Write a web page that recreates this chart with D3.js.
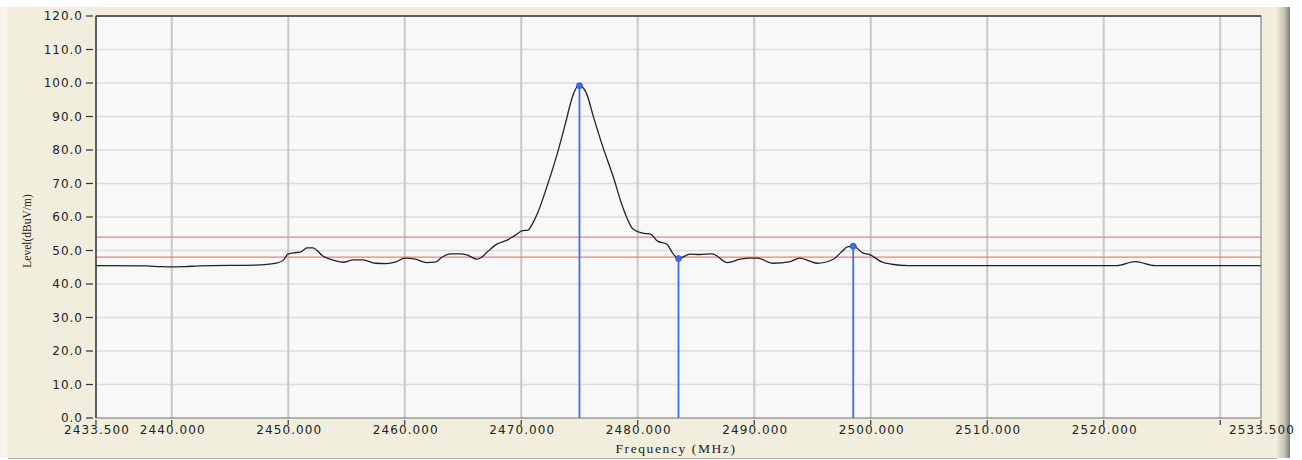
<!DOCTYPE html>
<html>
<head>
<meta charset="utf-8">
<script src="https://cdn.jsdelivr.net/npm/d3@7"></script>
<style>
  html, body { margin: 0; padding: 0; background: #ffffff; }
  svg { display: block; }
</style>
</head>
<body>
<svg id="chart" width="1302" height="460"></svg>
<script>
// ---- data ----
const freqMHz = [2433.5, 2437.8, 2439.0, 2440.0, 2441.1, 2442.4, 2447.7, 2449.0, 2449.6, 2450.0,
  2450.7, 2451.1, 2451.6, 2452.1, 2453.0, 2453.6, 2454.7, 2455.6, 2456.4, 2457.5,
  2458.4, 2459.3, 2460.0, 2460.9, 2461.9, 2462.6, 2463.2, 2463.9, 2464.7, 2465.4,
  2466.2, 2466.6, 2467.1, 2467.9, 2468.8, 2469.5, 2470.1, 2470.6, 2470.9, 2471.4,
  2472.2, 2473.1, 2473.8, 2474.4, 2474.9, 2475.2, 2475.6, 2476.2, 2477.0, 2477.9,
  2478.7, 2479.6, 2480.4, 2481.1, 2481.7, 2482.5, 2483.0, 2483.5, 2484.5, 2485.3,
  2486.4, 2487.7, 2488.8, 2489.6, 2490.3, 2491.6, 2493.1, 2493.9, 2495.4, 2496.8,
  2497.5, 2498.0, 2498.5, 2499.3, 2499.9, 2501.0, 2501.8, 2503.2, 2521.1, 2522.7,
  2524.4, 2533.5];
const levelDb = [45.5, 45.4, 45.2, 45.1, 45.2, 45.4, 45.7, 46.2, 47.2, 49.0,
  49.4, 49.6, 50.8, 50.8, 48.3, 47.4, 46.5, 47.2, 47.2, 46.2,
  46.1, 46.7, 47.7, 47.4, 46.4, 46.5, 48.0, 49.0, 49.0, 48.6,
  47.4, 48.0, 49.6, 51.9, 53.1, 54.6, 55.9, 56.1, 57.6, 61.1,
  69.0, 79.0, 88.0, 95.9, 99.2, 98.9, 96.9, 89.9, 81.0, 72.0,
  63.1, 56.4, 55.2, 54.9, 52.8, 51.9, 49.2, 47.6, 48.9, 48.8,
  49.0, 46.4, 47.4, 47.7, 47.7, 46.2, 46.7, 47.7, 46.2, 47.4,
  49.6, 51.1, 51.3, 49.3, 48.8, 46.5, 45.9, 45.5, 45.5, 46.7,
  45.5, 45.5];
const markerFreq = [2475.0, 2483.5, 2498.5];
const markerLevel = [99.2, 47.6, 51.3];
const limitLines = [54.0, 48.0];
const xTickValues = [2433.5, 2440, 2450, 2460, 2470, 2480, 2490, 2500, 2510, 2520, 2530, 2533.5];
const xTickLabels = ["2433.500", "2440.000", "2450.000", "2460.000", "2470.000", "2480.000",
  "2490.000", "2500.000", "2510.000", "2520.000", "", "2533.500"];
const xGridValues = [2440, 2450, 2460, 2470, 2480, 2490, 2500, 2510, 2520, 2530];
const yTickValues = [0, 10, 20, 30, 40, 50, 60, 70, 80, 90, 100, 110, 120];
const xTitle = "Frequency (MHz)";
const yTitle = "Level(dBuV/m)";

// ---- layout ----
const svg = d3.select("#chart");
const L = 96, R = 1261, T = 16, B = 418;
const x = d3.scaleLinear().domain([2433.5, 2533.5]).range([L, R]);
const y = d3.scaleLinear().domain([0, 120]).range([B, T]);

// panel background
svg.append("rect").attr("x", 0).attr("y", 7).attr("width", 1277).attr("height", 451).attr("fill", "#f1eedd");
svg.append("rect").attr("x", 0).attr("y", 7).attr("width", 7).attr("height", 451).attr("fill", "#f7f5ea");
const grad = svg.append("defs").append("linearGradient").attr("id", "shade").attr("x1", "0%").attr("x2", "100%");
grad.append("stop").attr("offset", "0%").attr("stop-color", "#ece8d6");
grad.append("stop").attr("offset", "60%").attr("stop-color", "#c4c1b2");
grad.append("stop").attr("offset", "100%").attr("stop-color", "#7c7b74");
svg.append("rect").attr("x", 1277).attr("y", 7).attr("width", 13).attr("height", 451).attr("fill", "url(#shade)");
svg.append("line").attr("x1", 8).attr("x2", 1277).attr("y1", 458.5).attr("y2", 458.5).attr("stroke", "#b0ada0").attr("stroke-width", 1);

// plot area
svg.append("rect").attr("x", L).attr("y", T).attr("width", R - L).attr("height", B - T).attr("fill", "#f8f8f8");

// grid
svg.append("g").selectAll("line").data(yTickValues.filter(v => v > 0 && v < 120)).join("line")
  .attr("x1", L).attr("x2", R).attr("y1", d => y(d)).attr("y2", d => y(d))
  .attr("stroke", "#dcdcdc").attr("stroke-width", 1.5);
svg.append("g").selectAll("line").data(xGridValues).join("line")
  .attr("x1", d => x(d)).attr("x2", d => x(d)).attr("y1", T).attr("y2", B)
  .attr("stroke", "#c8c8c8").attr("stroke-width", 2);

// limit lines
svg.append("g").selectAll("line").data(limitLines).join("line")
  .attr("x1", L).attr("x2", R).attr("y1", d => y(d)).attr("y2", d => y(d))
  .attr("stroke", "#ef7f7f").attr("stroke-width", 1.3);

// marker verticals
const markers = markerFreq.map((f, i) => ({ f, v: markerLevel[i] }));
svg.append("g").selectAll("line").data(markers).join("line")
  .attr("x1", d => x(d.f)).attr("x2", d => x(d.f)).attr("y1", d => y(d.v)).attr("y2", B)
  .attr("stroke", "#3d6fe0").attr("stroke-width", 1.8);

// trace
const pts = freqMHz.map((f, i) => [f, levelDb[i]]);
const line = d3.line().x(d => x(d[0])).y(d => y(d[1])).curve(d3.curveMonotoneX);
svg.append("path").attr("d", line(pts)).attr("fill", "none").attr("stroke", "#222").attr("stroke-width", 1.3);

// marker dots
svg.append("g").selectAll("circle").data(markers).join("circle")
  .attr("cx", d => x(d.f)).attr("cy", d => y(d.v)).attr("r", 3)
  .attr("fill", "#3d6fe0").attr("stroke", "#2a55c0").attr("stroke-width", 0.8);

// frame
svg.append("rect").attr("x", L).attr("y", T).attr("width", R - L).attr("height", B - T)
  .attr("fill", "none").attr("stroke", "#707070").attr("stroke-width", 1);
svg.append("line").attr("x1", L).attr("x2", L).attr("y1", T).attr("y2", B).attr("stroke", "#303030").attr("stroke-width", 1.3);
svg.append("line").attr("x1", L).attr("x2", R).attr("y1", T).attr("y2", T).attr("stroke", "#404040").attr("stroke-width", 1.3);

// y axis ticks & labels
const yAxis = svg.append("g");
yAxis.selectAll("line").data(yTickValues).join("line")
  .attr("x1", 86).attr("x2", 93).attr("y1", d => y(d)).attr("y2", d => y(d))
  .attr("stroke", "#333").attr("stroke-width", 1.2);
yAxis.selectAll("text").data(yTickValues).join("text")
  .attr("x", 83).attr("y", d => y(d)).attr("dy", "0.36em")
  .attr("text-anchor", "end")
  .style("font-family", "'DejaVu Sans', Verdana, sans-serif").style("font-size", "12px")
  .style("letter-spacing", "1px").attr("fill", "#222")
  .text(d => d3.format(".1f")(d));

// x axis ticks & labels
const xAxis = svg.append("g");
xAxis.selectAll("line").data(xTickValues).join("line")
  .attr("x1", d => x(d)).attr("x2", d => x(d)).attr("y1", 420).attr("y2", 425)
  .attr("stroke", "#333").attr("stroke-width", 1.2);
xAxis.selectAll("text").data(xTickValues).join("text")
  .attr("x", (d) => x(d) + 1).attr("y", 434)
  .attr("text-anchor", "middle")
  .style("font-family", "'DejaVu Sans', Verdana, sans-serif").style("font-size", "12px")
  .style("letter-spacing", "1.1px").attr("fill", "#222")
  .text((d, i) => xTickLabels[i]);

// titles
svg.append("text").attr("x", 676).attr("y", 453).attr("text-anchor", "middle")
  .style("font-family", "'Liberation Serif', 'Times New Roman', serif").style("font-size", "13.5px")
  .style("letter-spacing", "1.6px").attr("fill", "#222").text(xTitle);
svg.append("text").attr("transform", "translate(31,231) rotate(-90)").attr("text-anchor", "middle")
  .style("font-family", "'Liberation Serif', 'Times New Roman', serif").style("font-size", "11.5px")
  .attr("fill", "#222").text(yTitle);
</script>
</body>
</html>
